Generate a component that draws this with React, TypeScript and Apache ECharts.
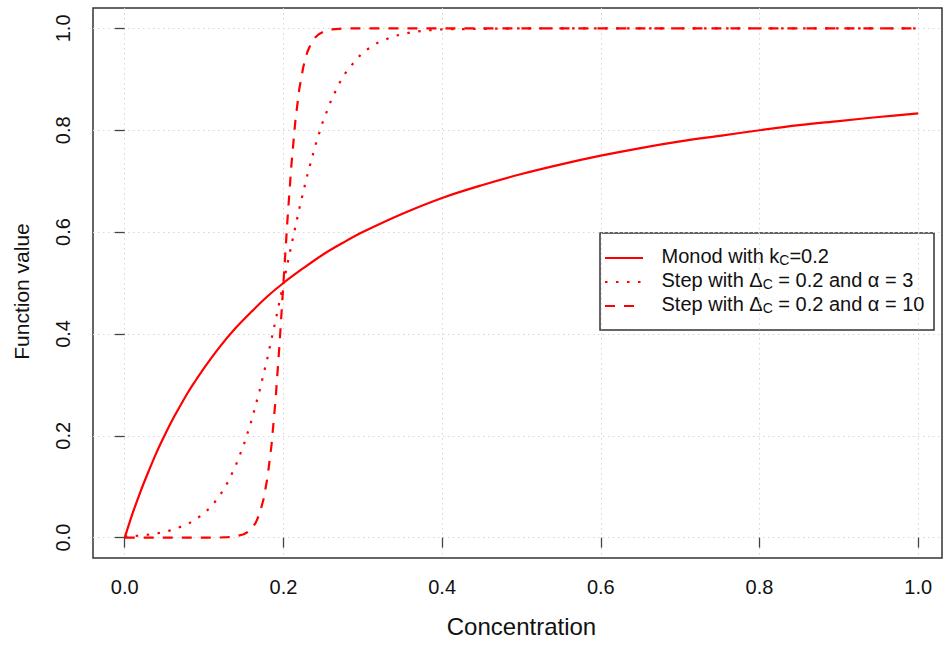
import React, { useEffect, useRef } from "react";
import * as echarts from "echarts";

// Tick positions shared by both axes
const tickValues = [0, 0.2, 0.4, 0.6, 0.8, 1.0];

// Monod with k_C = 0.2 (solid)
const monodConc = [0, 0.01, 0.02, 0.03, 0.04, 0.05, 0.06, 0.07, 0.08, 0.09, 0.1, 0.12, 0.14, 0.16, 0.18, 0.2, 0.225, 0.25, 0.275, 0.3, 0.35, 0.4, 0.45, 0.5, 0.55, 0.6, 0.65, 0.7, 0.75, 0.8, 0.85, 0.9, 0.95, 1.0];
const monodValue = [0, 0.048, 0.091, 0.13, 0.167, 0.2, 0.231, 0.259, 0.286, 0.31, 0.333, 0.375, 0.412, 0.444, 0.474, 0.5, 0.529, 0.556, 0.579, 0.6, 0.636, 0.667, 0.692, 0.714, 0.733, 0.75, 0.765, 0.778, 0.789, 0.8, 0.81, 0.818, 0.826, 0.833];

// Step with Delta_C = 0.2 and alpha = 3 (dotted)
const step3Conc = [0, 0.02, 0.04, 0.06, 0.08, 0.1, 0.11, 0.12, 0.13, 0.14, 0.15, 0.16, 0.17, 0.18, 0.19, 0.2, 0.21, 0.22, 0.23, 0.24, 0.25, 0.26, 0.27, 0.28, 0.3, 0.32, 0.34, 0.36, 0.38, 0.4, 0.45, 0.5, 0.6, 0.8, 1.0];
const step3Value = [0.002, 0.004, 0.008, 0.015, 0.027, 0.047, 0.063, 0.083, 0.109, 0.142, 0.182, 0.231, 0.289, 0.354, 0.426, 0.5, 0.574, 0.646, 0.711, 0.769, 0.818, 0.858, 0.891, 0.917, 0.953, 0.973, 0.985, 0.992, 0.996, 0.998, 0.999, 1.0, 1.0, 1.0, 1.0];

// Step with Delta_C = 0.2 and alpha = 10 (dashed)
const step10Conc = [0, 0.05, 0.1, 0.12, 0.13, 0.14, 0.15, 0.155, 0.16, 0.165, 0.17, 0.175, 0.18, 0.185, 0.19, 0.195, 0.2, 0.205, 0.21, 0.215, 0.22, 0.225, 0.23, 0.235, 0.24, 0.245, 0.25, 0.26, 0.27, 0.28, 0.3, 0.4, 0.6, 0.8, 1.0];
const step10Value = [0, 0, 0, 0.0003, 0.0009, 0.0025, 0.0067, 0.011, 0.018, 0.029, 0.047, 0.076, 0.119, 0.182, 0.269, 0.378, 0.5, 0.622, 0.731, 0.818, 0.881, 0.924, 0.953, 0.971, 0.982, 0.989, 0.993, 0.998, 0.999, 1.0, 1.0, 1.0, 1.0, 1.0, 1.0];

const seriesNames = [
  "Monod with kC=0.2",
  "Step with ΔC = 0.2 and α = 3",
  "Step with ΔC = 0.2 and α = 10",
];
const legendRich = [
  "{a|Monod with k}{s|C}{a|=0.2}",
  "{a|Step with Δ}{s|C}{a| = 0.2 and α = 3}",
  "{a|Step with Δ}{s|C}{a| = 0.2 and α = 10}",
];

const FONT = "'Liberation Sans', Arial, Helvetica, sans-serif";
const RED = "#ff0000";
const DOTTED = [2.5, 8.5];
const DASHED = [10, 9];
const TEXT = "#111";

export default function App() {
  const ref = useRef<HTMLDivElement>(null);

  useEffect(() => {
    if (!ref.current) return;
    const chart = echarts.init(ref.current, null, { renderer: "svg" });
    const pairs = (xs: number[], ys: number[]) => xs.map((x, i) => [x, ys[i]]);
    const dashes = [null, DOTTED, DASHED];
    const smooths = [0.35, false, false];

    const axisCommon = {
      type: "value",
      axisLine: { show: false },
      axisTick: {
        show: true,
        length: 10,
        customValues: tickValues,
        lineStyle: { color: "#444", width: 1.3 },
      },
      splitLine: {
        show: true,
        lineStyle: { color: "#d6d6d6", width: 1, type: [1.5, 3.5] },
      },
      nameLocation: "middle",
    };

    const option: any = {
      animation: false,
      backgroundColor: "#ffffff",
      textStyle: { fontFamily: FONT },
      grid: {
        left: 93,
        right: 2,
        top: 8,
        bottom: 88,
        show: true,
        borderColor: "#333",
        borderWidth: 1.5,
        backgroundColor: "transparent",
      },
      xAxis: {
        ...axisCommon,
        min: -0.04,
        max: 1.03,
        name: "Concentration",
        nameGap: 56,
        nameTextStyle: { fontSize: 24, color: TEXT, fontFamily: FONT, padding: [0, 0, 0, 8] },
        axisLabel: {
          customValues: tickValues,
          formatter: (v: number) => v.toFixed(1),
          fontSize: 20,
          color: TEXT,
          fontFamily: FONT,
          margin: 19,
        },
      },
      yAxis: {
        ...axisCommon,
        min: -0.04,
        max: 1.04,
        name: "Function value",
        nameGap: 61,
        nameTextStyle: { fontSize: 21, color: TEXT, fontFamily: FONT, padding: [0, 17, 0, 0] },
        axisLabel: {
          customValues: tickValues,
          formatter: (v: number) => v.toFixed(1),
          fontSize: 20,
          color: TEXT,
          fontFamily: FONT,
          margin: 20,
          rotate: 90,
        },
      },
      series: [
        [monodConc, monodValue],
        [step3Conc, step3Value],
        [step10Conc, step10Value],
      ].map(([xs, ys], i) => ({
        name: seriesNames[i],
        type: "line",
        data: pairs(xs, ys),
        showSymbol: false,
        symbol: "none",
        silent: true,
        smooth: smooths[i],
        lineStyle: {
          color: RED,
          width: 2.2,
          type: dashes[i] || "solid",
          cap: "butt",
        },
        z: 3,
      })),
      graphic: [
        {
          type: "group",
          z: 100,
          children: [
            {
              type: "rect",
              shape: { x: 600, y: 233, width: 334, height: 97 },
              style: { fill: "#ffffff", stroke: "#333", lineWidth: 1.5 },
            },
            ...legendRich.flatMap((txt, i) => [
              {
                type: "line",
                shape: { x1: 605, y1: 258 + 24 * i, x2: 643, y2: 258 + 24 * i },
                style: {
                  stroke: RED,
                  lineWidth: 2.2,
                  lineDash: dashes[i] || null,
                  lineCap: "butt",
                },
              },
              {
                type: "text",
                x: 661.5,
                y: 255.5 + 24 * i,
                style: {
                  text: txt,
                  align: "left",
                  verticalAlign: "middle",
                  fill: TEXT,
                  fontSize: 20,
                  fontFamily: FONT,
                  rich: {
                    a: { fontSize: 20, fontFamily: FONT, fill: TEXT },
                    s: { fontSize: 14, fontFamily: FONT, fill: TEXT, padding: [9, 0, 0, 0] },
                  },
                },
              },
            ]),
          ],
        },
      ],
    };

    chart.setOption(option);
    return () => chart.dispose();
  }, []);

  return (
    <div
      ref={ref}
      style={{ position: "absolute", left: 0, top: 0, width: 944, height: 646, background: "#fff" }}
    />
  );
}
